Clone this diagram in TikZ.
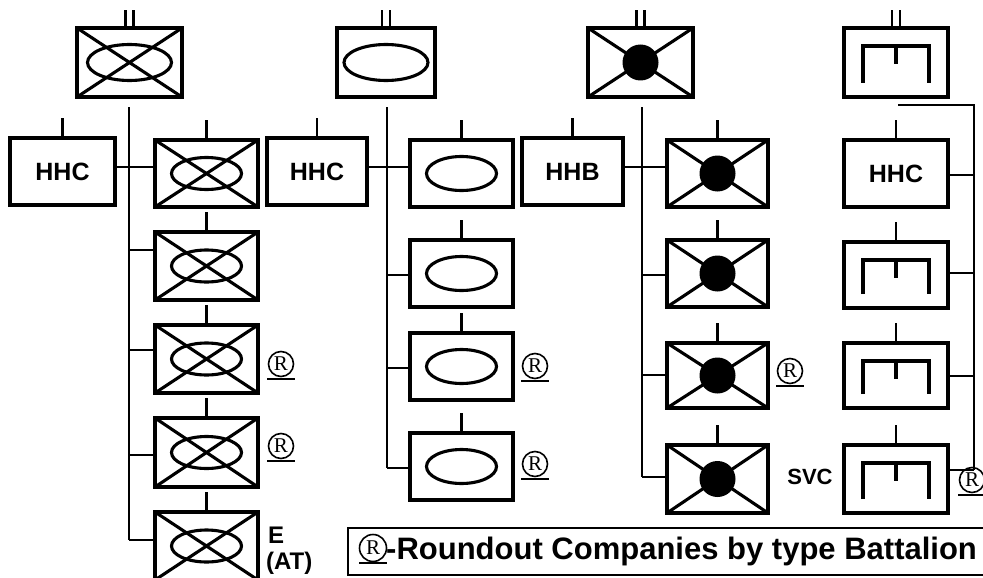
\documentclass[tikz,border=0pt]{standalone}
\usepackage{fontspec}
\setmainfont{Liberation Sans}
\newfontfamily\serifR{Liberation Serif}
\tikzset{
  bx/.style={draw, rectangle, line width=3.2pt, inner sep=0pt, outer sep=0pt,
    font=\fontsize{25}{25}\selectfont\bfseries},
  ln/.style={line width=2.7pt},
  sym/.style={line width=3.1pt},
  tk/.style={line width=2.6pt},
  regc/.style={circle, draw, line width=1.6pt, minimum size=25pt, inner sep=0pt,
    font=\serifR\fontsize{21}{21}\selectfont},
  uln/.style={line width=2.2pt},
  lbl/.style={font=\fontsize{24}{24}\selectfont\bfseries, inner sep=0pt},
}
\newcommand\mkbx[6]{\node[bx, minimum width={#4-#2}, minimum height={#5-#3}] (#1) at ({(#2+#4)/2},{(#3+#5)/2}) {#6};}
\newcommand\crossit[1]{\draw[sym] (#1.north west) -- (#1.south east) (#1.north east) -- (#1.south west);}
\newcommand\ellit[3]{\draw[sym] (#1.center) ellipse [x radius=#2, y radius=#3];}
\newcommand\dotit[1]{\fill (#1.center) circle [radius=18];}
\newcommand\svcsym[1]{\draw[sym] ([xshift=19,yshift=14]#1.south west) -- ([xshift=19,yshift=-18]#1.north west) -- ([xshift=-19,yshift=-18]#1.north east) -- ([xshift=-19,yshift=14]#1.south east);
  \draw[sym] ([yshift=-18]#1.north) -- ([yshift=-36]#1.north);}
\newcommand\onetick[1]{\draw[tk] (#1.north) -- ++(0,-20);}
\newcommand\twotick[1]{\draw[tk] ([xshift=-4]#1.north) -- ++(0,-18) ([xshift=4]#1.north) -- ++(0,-18);}
\newcommand\regat[4][]{\node[regc,#1] (#2) at (#3,#4) {R};
  \draw[uln] ([xshift=-14,yshift=-15]#2.center) -- ([xshift=14,yshift=-15]#2.center);}
\begin{document}
\begin{tikzpicture}[x=1pt,y=-1pt]
\useasboundingbox (0,0) rectangle (983,578);
\fill[white] (0,0) rectangle (983,578);
% ---------------- column 1 ----------------
\mkbx{c1top}{77}{28}{182}{97}{}
\crossit{c1top}\ellit{c1top}{42}{18}\twotick{c1top}
\mkbx{hhc1}{10}{138}{115}{205}{HHC}\onetick{hhc1}
\mkbx{c1b1}{155}{140}{258}{207}{}
\mkbx{c1b2}{155}{232}{258}{300}{}
\mkbx{c1b3}{155}{325}{258}{393}{}
\mkbx{c1b4}{155}{418}{258}{487}{}
\mkbx{c1b5}{155}{512}{258}{580}{}
\foreach \n in {c1b1,c1b2,c1b3,c1b4,c1b5}{\crossit{\n}\ellit{\n}{35}{16}\onetick{\n}}
\coordinate (t1s) at (129,107);
\coordinate (t1a) at (129,167);
\coordinate (t1b) at (129,250);
\coordinate (t1c) at (129,350);
\coordinate (t1d) at (129,455);
\coordinate (t1e) at (129,540);
\draw[ln] (t1s) -- (t1e);
\draw[ln] (t1a -| hhc1.east) -- (t1a -| c1b1.west);
\draw[ln] (t1b) -- (t1b -| c1b2.west);
\draw[ln] (t1c) -- (t1c -| c1b3.west);
\draw[ln] (t1d) -- (t1d -| c1b4.west);
\draw[ln] (t1e) -- (t1e -| c1b5.west);
\regat{r1}{281}{364}
\regat{r2}{281}{446}
\node[lbl, anchor=base west] (eat1) at (268,543) {E};
\node[lbl, anchor=base west] (eat2) at (266,569) {(AT)};
% ---------------- column 2 ----------------
\mkbx{c2top}{337}{28}{435}{97}{}
\ellit{c2top}{42}{18}\twotick{c2top}
\mkbx{hhc2}{267}{138}{367}{205}{HHC}\onetick{hhc2}
\mkbx{c2b1}{410}{140}{513}{207}{}
\mkbx{c2b2}{410}{240}{513}{307}{}
\mkbx{c2b3}{410}{333}{513}{400}{}
\mkbx{c2b4}{410}{433}{513}{500}{}
\foreach \n in {c2b1,c2b2,c2b3,c2b4}{\ellit{\n}{35}{17}\onetick{\n}}
\coordinate (t2s) at (387,107);
\coordinate (t2a) at (387,167);
\coordinate (t2b) at (387,275);
\coordinate (t2c) at (387,368);
\coordinate (t2d) at (387,468);
\draw[ln] (t2s) -- (t2d);
\draw[ln] (t2a -| hhc2.east) -- (t2a -| c2b1.west);
\draw[ln] (t2b) -- (t2b -| c2b2.west);
\draw[ln] (t2c) -- (t2c -| c2b3.west);
\draw[ln] (t2d) -- (t2d -| c2b4.west);
\regat{r3}{535}{366}
\regat{r4}{535}{464}
% ---------------- column 3 ----------------
\mkbx{c3top}{588}{28}{693}{97}{}
\crossit{c3top}\dotit{c3top}\twotick{c3top}
\mkbx{hhb}{522}{138}{623}{205}{HHB}\onetick{hhb}
\mkbx{c3b1}{667}{140}{768}{207}{}
\mkbx{c3b2}{667}{240}{768}{307}{}
\mkbx{c3b3}{667}{343}{768}{408}{}
\mkbx{c3b4}{667}{445}{768}{513}{}
\foreach \n in {c3b1,c3b2,c3b3,c3b4}{\crossit{\n}\dotit{\n}\onetick{\n}}
\coordinate (t3s) at (642,107);
\coordinate (t3a) at (642,167);
\coordinate (t3b) at (642,275);
\coordinate (t3c) at (642,375);
\coordinate (t3d) at (642,477);
\draw[ln] (t3s) -- (t3d);
\draw[ln] (t3a -| hhb.east) -- (t3a -| c3b1.west);
\draw[ln] (t3b) -- (t3b -| c3b2.west);
\draw[ln] (t3c) -- (t3c -| c3b3.west);
\draw[ln] (t3d) -- (t3d -| c3b4.west);
\regat{r5}{790}{371}
% ---------------- column 4 ----------------
\mkbx{c4top}{844}{28}{948}{97}{}
\svcsym{c4top}\twotick{c4top}
\mkbx{hhc4}{844}{140}{948}{207}{HHC}\onetick{hhc4}
\mkbx{c4b2}{844}{242}{948}{308}{}
\mkbx{c4b3}{844}{343}{948}{408}{}
\mkbx{c4b4}{844}{445}{948}{513}{}
\foreach \n in {c4b2,c4b3,c4b4}{\svcsym{\n}\onetick{\n}}
\coordinate (t4s) at (898,105);
\coordinate (t4k) at (974,105);
\coordinate (t4a) at (974,175);
\coordinate (t4b) at (974,273);
\coordinate (t4c) at (974,376);
\coordinate (t4d) at (974,470);
\draw[ln] (t4s) -- (t4k) -- (t4d);
\draw[ln] (t4a) -- (t4a -| hhc4.east);
\draw[ln] (t4b) -- (t4b -| c4b2.east);
\draw[ln] (t4c) -- (t4c -| c4b3.east);
\draw[ln] (t4d) -- (t4d -| c4b4.east);
\node[font=\fontsize{22}{22}\selectfont\bfseries, inner sep=0pt, anchor=base] (svc) at (810,484) {SVC};
\regat{r6}{972}{480}
% ---------------- legend ----------------
\node[draw, rectangle, line width=2.7pt, inner sep=0pt, outer sep=0pt,
  minimum width=660, minimum height=47] (leg) at (678,551.5) {};
\regat[minimum size=27pt]{rL}{373}{548}
\node[font=\fontsize{31}{31}\selectfont\bfseries, inner sep=0pt, anchor=base west] (legtxt) at (386,559) {-Roundout Companies by type Battalion};
\end{tikzpicture}
\end{document}
